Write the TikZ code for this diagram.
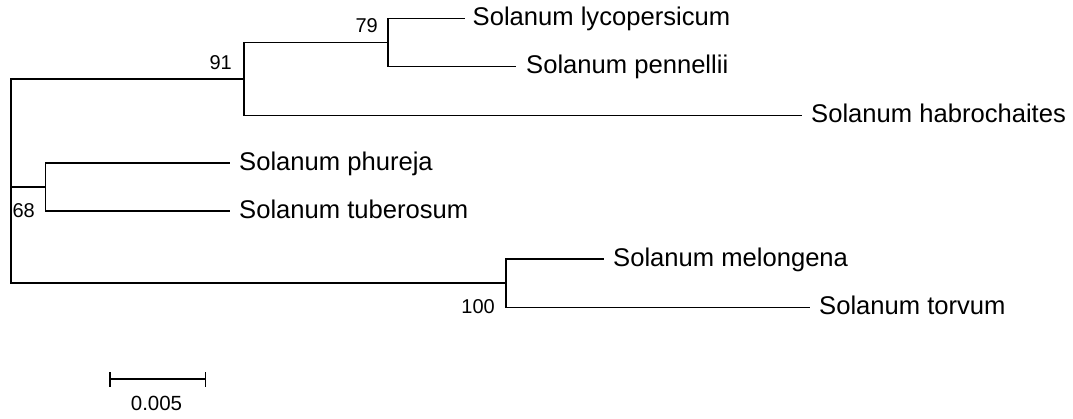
\documentclass[tikz,border=0pt]{standalone}
\usepackage{fontspec}
\setmainfont{Liberation Sans}
\begin{document}
\begin{tikzpicture}[x=1pt,y=-1pt,
  branch/.style={line width=1.5pt, line join=miter},
  leaf/.style={anchor=base west, inner sep=0pt, font=\fontsize{25.6}{30}\selectfont},
  boot/.style={anchor=base east, inner sep=0pt, font=\fontsize{20}{24}\selectfont},
  scalelbl/.style={anchor=base, inner sep=0pt, font=\fontsize{20.5}{24}\selectfont}]
\useasboundingbox[fill=white] (0,0) rectangle (1073,418);
% internal nodes
\coordinate (root) at (11,181);
\coordinate (n91) at (244,79);
\coordinate (n79) at (388,42.5);
\coordinate (n68) at (45.5,187);
\coordinate (n100) at (506,283);
% leaf ends
\coordinate (lyco) at (465,18.5);
\coordinate (penn) at (516,66.5);
\coordinate (habr) at (802,115.5);
\coordinate (phur) at (230,163);
\coordinate (tube) at (230,211);
\coordinate (melo) at (604,259);
\coordinate (torv) at (810,307.5);
% branches
\draw[branch] (root) |- (n91);
\draw[branch] (root) |- (n68);
\draw[branch] (root) |- (n100);
\draw[branch] (n91) |- (n79);
\draw[branch] (n91) |- (habr);
\draw[branch] (n79) |- (lyco);
\draw[branch] (n79) |- (penn);
\draw[branch] (n68) |- (phur);
\draw[branch] (n68) |- (tube);
\draw[branch] (n100) |- (melo);
\draw[branch] (n100) |- (torv);
% leaf labels
\node[leaf] (tlyco) at ([xshift=7.5pt,yshift=-7pt]lyco) {Solanum lycopersicum};
\node[leaf] (tpenn) at ([xshift=10pt,yshift=-7pt]penn) {Solanum pennellii};
\node[leaf] (thabr) at ([xshift=9pt,yshift=-7pt]habr) {Solanum habrochaites};
\node[leaf] (tphur) at ([xshift=9pt,yshift=-7pt]phur) {Solanum phureja};
\node[leaf] (ttube) at ([xshift=9pt,yshift=-7pt]tube) {Solanum tuberosum};
\node[leaf] (tmelo) at ([xshift=9pt,yshift=-7pt]melo) {Solanum melongena};
\node[leaf] (ttorv) at ([xshift=9pt,yshift=-7pt]torv) {Solanum torvum};
% bootstrap values
\node[boot] (b91) at ([xshift=-12pt,yshift=10pt]n91) {91};
\node[boot] (b79) at ([xshift=-10pt,yshift=10pt]n79) {79};
\node[boot] (b68) at ([xshift=-10.5pt,yshift=-30pt]n68) {68};
\node[boot] (b100) at ([xshift=-11pt,yshift=-30pt]n100) {100};
% scale bar
\coordinate (sbl) at (110,379);
\coordinate (sbr) at (205.5,379);
\draw[branch] (sbl) -- (sbr);
\draw[branch] ([yshift=-7.5pt]sbl) -- ([yshift=7.5pt]sbl);
\draw[branch] ([yshift=-7.5pt]sbr) -- ([yshift=7.5pt]sbr);
\node[scalelbl] (sblabel) at (156.5,410) {0.005};
\end{tikzpicture}
\end{document}
